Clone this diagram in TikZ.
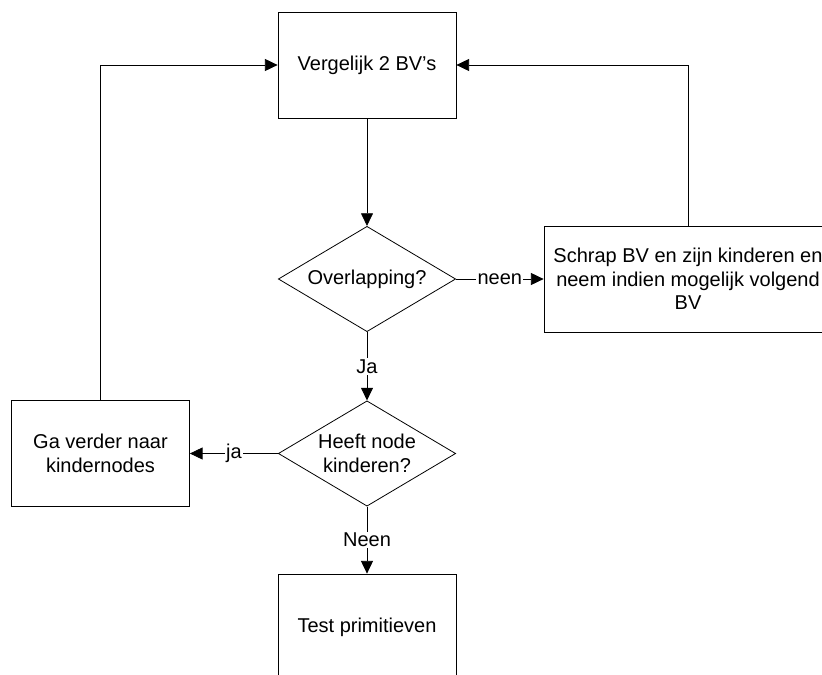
\documentclass[tikz,border=0pt]{standalone}
\usepackage{fontspec}
\setmainfont{Liberation Sans}
\usepackage{tikz}
\usetikzlibrary{shapes.geometric,arrows.meta}

\tikzset{
  blok/.style={draw, line width=0.6pt, minimum width=133.5pt, minimum height=79.5pt, align=center},
  keuze/.style={draw, diamond, line width=0.6pt, aspect=1.69, inner sep=0pt, minimum width=133pt, minimum height=79pt, align=center},
  pijl/.style={line width=0.6pt, -{Triangle[length=9.5pt,width=9pt]}},
  etiket/.style={fill=white, inner sep=1pt}
}

\begin{document}
\begin{tikzpicture}[x=0.75pt, y=-0.75pt, font=\fontsize{15}{17.5}\selectfont]
            \clip (0,0) rectangle (822,675);
            \node[blok] (vgl) at (367,65) {Vergelijk 2 BV’s};
            \node[keuze] (overl) at (367,279) {Overlapping?};
            \node[blok, minimum width=216pt] (schrap) at (688,279) {Schrap BV en zijn kinderen en\\neem indien mogelijk volgend\\BV};
            \node[keuze] (kind) at (367,453.5) {Heeft node\\kinderen?};
            \node[blok, minimum height=80pt] (verder) at (100.5,453.5) {Ga verder naar\\kindernodes};
            \node[blok] (test) at (367,627) {Test primitieven};
            \draw[pijl] (vgl.south) -- (overl.north);
            \draw[pijl] (overl.east) -- (schrap.west) node[pos=0.5,etiket] {neen};
            \draw[pijl] (schrap.north) |- (vgl.east);
            \draw[pijl] (overl.south) -- (kind.north) node[pos=0.5,etiket] {Ja};
            \draw[pijl] (kind.west) -- (verder.east) node[pos=0.5,etiket] {ja};
            \draw[pijl] (verder.north) |- (vgl.west);
            \draw[pijl] (kind.south) -- (test.north) node[pos=0.5,etiket] {Neen};
        \end{tikzpicture}
\end{document}
